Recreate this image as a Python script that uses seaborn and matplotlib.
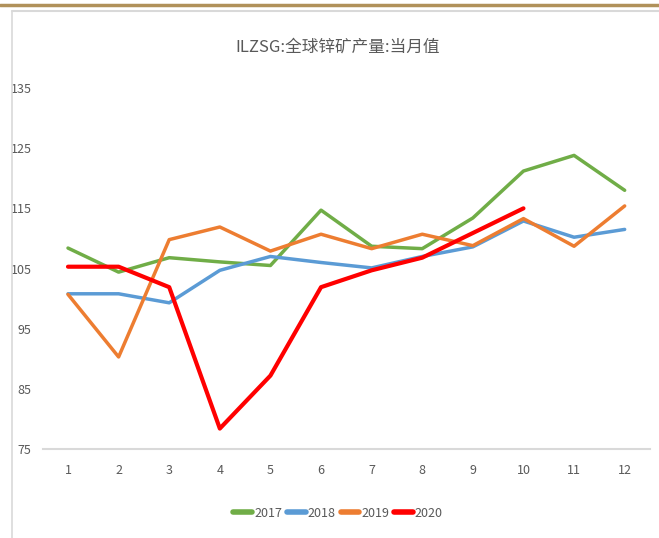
import matplotlib.pyplot as plt
import pandas as pd
import seaborn as sns
from matplotlib.lines import Line2D

months = list(range(1, 13))
y2017 = [108.4, 104.4, 106.8, 106.1, 105.5, 114.7, 108.7, 108.3, 113.4, 121.2, 123.8, 118.0]
y2018 = [100.8, 100.8, 99.3, 104.7, 107.0, 106.0, 105.1, 107.0, 108.6, 112.9, 110.2, 111.5]
y2019 = [100.7, 90.3, 109.8, 111.9, 107.9, 110.7, 108.3, 110.7, 108.8, 113.3, 108.7, 115.4]
y2020 = [105.3, 105.3, 101.9, 78.4, 87.2, 101.9, 104.7, 106.8, 110.9, 115.0]
years = ["2017", "2018", "2019", "2020"]
colors = ["#70AD47", "#5B9BD5", "#ED7D31", "#FF0000"]
widths = [2.5, 2.5, 2.5, 3.0]

frames = []
for yr, vals in zip(years, [y2017, y2018, y2019, y2020]):
    frames.append(pd.DataFrame({"month": months[:len(vals)], "value": vals, "year": yr}))
df = pd.concat(frames, ignore_index=True)

sns.set_theme(style="white")
plt.rcParams["font.family"] = ["Noto Sans CJK SC", "DejaVu Sans"]

fig = plt.figure(figsize=(6.59, 5.38), dpi=100)
ax = fig.add_axes([0.0648, 0.1654, 0.9215, 0.671])

for yr, c, lw in zip(years, colors, widths):
    sns.lineplot(data=df[df["year"] == yr], x="month", y="value", color=c,
                 linewidth=lw, ax=ax, legend=False)

ax.set_xlim(0.5, 12.5)
ax.set_ylim(75, 135)
ax.set_xticks(months)
ax.set_yticks([75, 85, 95, 105, 115, 125, 135])
ax.set_xlabel("")
ax.set_ylabel("")
for s in ["top", "right", "left"]:
    ax.spines[s].set_visible(False)
ax.spines["bottom"].set_color("#D9D9D9")
ax.spines["bottom"].set_linewidth(1.5)
ax.tick_params(axis="both", length=0, labelsize=9, colors="#595959")
ax.tick_params(axis="x", pad=11)
ax.tick_params(axis="y", pad=8)

fig.text(0.513, 0.913, "ILZSG:全球锌矿产量:当月值", ha="center", va="center",
         fontsize=12, color="#595959")

# frame decorations
fig.add_artist(Line2D([0, 1], [1 - 4.5 / 538] * 2, color="#B0915A", linewidth=2.5))
fig.add_artist(Line2D([12 / 659, 1], [1 - 10.5 / 538] * 2, color="#D9D9D9", linewidth=1.5))
fig.add_artist(Line2D([12 / 659] * 2, [0, 1 - 10.5 / 538], color="#D9D9D9", linewidth=1.2))

handles = [Line2D([0], [0], color=c, linewidth=4) for c in colors]
fig.legend(handles, years, loc="center", bbox_to_anchor=(0.513, 0.046), ncol=4,
           frameon=False, fontsize=9, handlelength=1.5, handletextpad=0.15,
           columnspacing=0.4, labelcolor="#595959")

fig.savefig("out.png", dpi=100)
